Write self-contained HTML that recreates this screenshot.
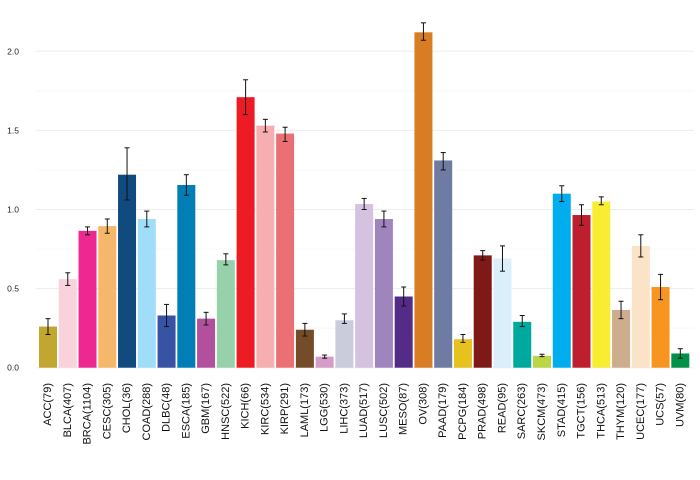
<!DOCTYPE html>
<html><head><meta charset="utf-8"><style>
html,body{margin:0;padding:0;background:#fff;}
svg{display:block;font-family:"Liberation Sans",sans-serif;}
</style></head><body>
<svg id="chart" width="700" height="480"></svg>
<script>
const categories=["ACC(79)","BLCA(407)","BRCA(1104)","CESC(305)","CHOL(36)","COAD(288)","DLBC(48)","ESCA(185)","GBM(167)","HNSC(522)","KICH(66)","KIRC(534)","KIRP(291)","LAML(173)","LGG(530)","LIHC(373)","LUAD(517)","LUSC(502)","MESO(87)","OV(308)","PAAD(179)","PCPG(184)","PRAD(498)","READ(95)","SARC(263)","SKCM(473)","STAD(415)","TGCT(156)","THCA(513)","THYM(120)","UCEC(177)","UCS(57)","UVM(80)"];
const values=[0.26,0.56,0.865,0.895,1.22,0.94,0.33,1.155,0.31,0.68,1.71,1.53,1.48,0.24,0.07,0.30,1.035,0.94,0.45,2.12,1.31,0.18,0.71,0.69,0.29,0.075,1.10,0.965,1.05,0.365,0.77,0.51,0.09];
const errLow=[0.21,0.52,0.84,0.85,1.06,0.89,0.26,1.09,0.27,0.65,1.60,1.49,1.43,0.20,0.06,0.28,1.00,0.89,0.39,2.07,1.25,0.16,0.68,0.61,0.26,0.07,1.05,0.90,1.03,0.31,0.70,0.43,0.06];
const errHigh=[0.31,0.60,0.89,0.94,1.39,0.99,0.40,1.22,0.35,0.72,1.82,1.57,1.52,0.28,0.08,0.34,1.07,0.99,0.51,2.18,1.36,0.21,0.74,0.77,0.33,0.085,1.15,1.03,1.08,0.42,0.84,0.59,0.12];
const colors=["#c1a72f","#f9d2dc","#ed2891","#f5b76a","#104a7f","#9fddf9","#3953a4","#007eb5","#b2509e","#97d1a9","#ed1c24","#f6aeb0","#ea7075","#754c29","#d49dc8","#cacbdb","#d4c2e0","#a084bd","#542c88","#d97d25","#6e7ba2","#e7c11e","#7e1918","#daeffa","#00a99d","#bbd642","#00aeef","#be1e2d","#f9ed32","#cead8e","#fbe3c7","#f89420","#009247"];
const yTicks=[0,0.5,1.0,1.5,2.0];
const yTickLabels=["0.0","0.5","1.0","1.5","2.0"];
const gridVals=[0.25,0.75,1.25,1.75];
const NS="http://www.w3.org/2000/svg";
const svg=document.getElementById("chart");
const x0=39,step=19.76,bw=18,y0=367.7,ppu=158.2;
const X=i=>x0+i*step;
const Y=v=>y0-v*ppu;
function mk(t,a){const e=document.createElementNS(NS,t);for(const k in a)e.setAttribute(k,a[k]);svg.appendChild(e);return e;}
gridVals.forEach(v=>{const l=mk("line",{x1:36,x2:694,y1:Y(v),y2:Y(v),stroke:"#f6f6f6","stroke-width":0.7});

});
yTicks.forEach((v,i)=>{const l=mk("line",{x1:36,x2:694,y1:Y(v),y2:Y(v),stroke:"#ededed","stroke-width":1});


const t=mk("text",{x:19,y:Y(v)+3,"text-anchor":"end","font-size":"8.5",fill:"#222"});t.textContent=yTickLabels[i];

});
categories.forEach((c,i)=>{
const r=mk("rect",{x:X(i),y:Y(values[i]),width:bw,height:values[i]*ppu,fill:colors[i]});


const cx=X(i)+bw/2;
const g=[[cx,cx,Y(errLow[i]),Y(errHigh[i])],[cx-2.5,cx+2.5,Y(errLow[i]),Y(errLow[i])],[cx-2.5,cx+2.5,Y(errHigh[i]),Y(errHigh[i])]];
g.forEach(s=>{const l=mk("line",{x1:s[0],x2:s[1],y1:s[2],y2:s[3],stroke:"#111","stroke-width":1});

});
const tx=cx+3,ty=383;
const t=mk("text",{x:tx,y:ty,"text-anchor":"end","font-size":"11",fill:"#111",transform:`rotate(-90 ${tx} ${ty})`});
t.textContent=c;


});
</script>
</body></html>
